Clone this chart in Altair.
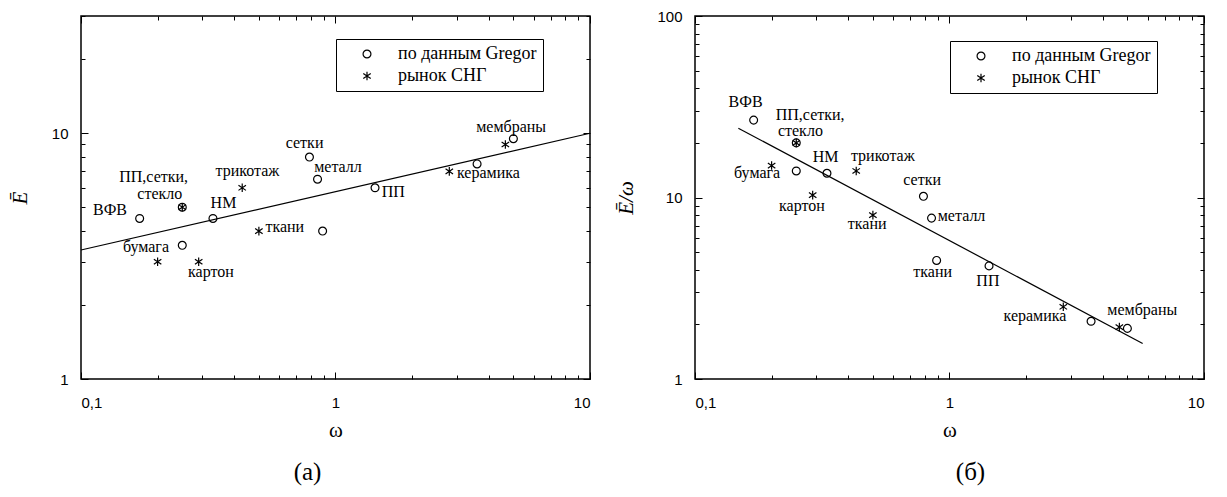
import altair as alt
import pandas as pd

# ---------------- data ----------------
SER_G = "по данным Gregor"
SER_S = "рынок СНГ"

# panel (a): E vs omega
a_gregor_w = [0.17, 0.25, 0.25, 0.33, 0.79, 0.85, 0.89, 1.43, 3.6, 5.0]
a_gregor_E = [4.5, 5.0, 3.5, 4.5, 8.0, 6.5, 4.0, 6.0, 7.5, 9.5]
a_sng_w = [0.2, 0.25, 0.29, 0.43, 0.5, 2.8, 4.65]
a_sng_E = [3.0, 5.0, 3.0, 6.0, 4.0, 7.0, 9.0]
a_fit_w = [0.1, 10.0]
a_fit_E = [3.35, 10.0]
a_lab_text = ["ВФВ", "ПП,сетки,", "стекло", "НМ", "трикотаж", "сетки", "металл",
              "ткани", "бумага", "картон", "ПП", "керамика", "мембраны"]
a_lab_w = [0.13, 0.193, 0.204, 0.363, 0.451, 0.756, 1.023, 0.632, 0.18, 0.324, 1.686, 3.99, 4.9]
a_lab_E = [4.85, 6.65, 5.65, 5.19, 6.99, 9.1, 7.32, 4.15, 3.46, 2.73, 5.74, 6.92, 10.6]

# panel (b): E/omega vs omega
b_gregor_w = [0.17, 0.25, 0.25, 0.33, 0.79, 0.85, 0.89, 1.43, 3.6, 5.0]
b_gregor_v = [26.7, 20.0, 14.0, 13.6, 10.15, 7.7, 4.5, 4.2, 2.08, 1.9]
b_sng_w = [0.2, 0.25, 0.29, 0.43, 0.5, 2.8, 4.65]
b_sng_v = [15.0, 20.0, 10.3, 14.0, 8.0, 2.5, 1.93]
b_fit_w = [0.148, 5.74]
b_fit_v = [24.1, 1.57]
b_lab_text = ["ВФВ", "ПП,сетки,", "стекло", "НМ", "трикотаж", "бумага", "картон",
              "ткани", "сетки", "металл", "ткани", "ПП", "керамика", "мембраны"]
b_lab_w = [0.158, 0.2835, 0.2595, 0.326, 0.547, 0.1754, 0.263, 0.475, 0.781, 1.115, 0.859, 1.415, 2.167, 5.72]
b_lab_v = [33.7, 28.6, 23.3, 16.8, 16.9, 13.6, 9.02, 7.11, 12.5, 7.91, 3.9, 3.47, 2.22, 2.4]

x_ticks = [0.1, 0.2, 0.3, 0.4, 0.5, 0.6, 0.7, 0.8, 0.9, 1, 2, 3, 4, 5, 6, 7, 8, 9, 10]
x_labels = [0.1, 1, 10]
a_y_ticks = [1, 2, 3, 4, 5, 6, 7, 8, 9, 10, 20, 30]
a_y_labels = [1, 10]
b_y_ticks = [1, 2, 3, 4, 5, 6, 7, 8, 9, 10, 20, 30, 40, 50, 60, 70, 80, 90, 100]
b_y_labels = [1, 10, 100]

W, H = 509, 363
ASTER = "M0,-1.1L0,1.1M-0.95,-0.66L0.95,0.66M-0.95,0.66L0.95,-0.66"
SERIF = "Liberation Serif, Times New Roman, serif"
SANS = "Liberation Sans, Arial, sans-serif"

tick_size = {"condition": {"test": "abs(log(datum.value)/LN10 - round(log(datum.value)/LN10)) < 0.001",
                           "value": 7}, "value": 4}


def tick_axis(orient, offset, values):
    return alt.Axis(orient=orient, offset=offset, values=values, labels=False, domain=False,
                    grid=False, title=None, ticks=True, tickColor="black", tickWidth=1,
                    tickSize=tick_size)


def panel(g_w, g_v, s_w, s_v, f_w, f_v, l_t, l_w, l_v, y_dom, y_ticks, y_labels,
          y_title, y_title_pad, caption, cap_dx, leg_y):
    xs = alt.Scale(type="log", domain=[0.1, 10], nice=False)
    ys = alt.Scale(type="log", domain=y_dom, nice=False)

    main_x = alt.Axis(orient="bottom", values=x_labels, format="~g",
                      labelExpr="replace(datum.label, '.', ',')",
                      ticks=False, tickSize=0, domain=False, grid=False,
                      labelFont=SANS, labelFontSize=15, labelColor="black", labelPadding=16,
                      title="ω", titleFont=SERIF, titleFontSize=21, titleFontWeight="normal",
                      titleColor="black", titlePadding=9)
    main_y = alt.Axis(orient="left", values=y_labels, format="~g",
                      ticks=False, tickSize=0, domain=False, grid=False,
                      labelFont=SANS, labelFontSize=15, labelColor="black", labelPadding=13,
                      title=y_title, titleFont=SERIF, titleFontSize=21, titleFontWeight="normal",
                      titleFontStyle="italic", titleColor="black", titlePadding=y_title_pad)

    line_df = pd.DataFrame({"w": f_w, "v": f_v})
    pts_df = pd.concat([
        pd.DataFrame({"w": g_w, "v": g_v, "series": SER_G}),
        pd.DataFrame({"w": s_w, "v": s_v, "series": SER_S}),
    ], ignore_index=True)
    lab_df = pd.DataFrame({"w": l_w, "v": l_v, "t": l_t})

    line = alt.Chart(line_df).mark_line(color="black", strokeWidth=1.2).encode(
        x=alt.X("w:Q", scale=xs, axis=main_x),
        y=alt.Y("v:Q", scale=ys, axis=main_y),
    )
    pts = alt.Chart(pts_df).mark_point(filled=False, color="black", strokeWidth=1.2, size=62,
                                       opacity=1).encode(
        x=alt.X("w:Q", scale=xs, axis=tick_axis("top", -H, x_ticks)),
        y=alt.Y("v:Q", scale=ys, axis=tick_axis("right", -W, y_ticks)),
        shape=alt.Shape("series:N",
                        scale=alt.Scale(domain=[SER_G, SER_S], range=["circle", ASTER]),
                        legend=alt.Legend(orient="none", legendX=255, legendY=leg_y, title=None,
                                          strokeColor="black", fillColor="white", padding=6,
                                          symbolOffset=16, labelOffset=22, rowPadding=4,
                                          labelFont=SERIF, labelFontSize=18, labelColor="black",
                                          symbolStrokeColor="black", symbolStrokeWidth=1.2,
                                          symbolFillColor="white", symbolSize=62,
                                          cornerRadius=0)),
    )
    txt = alt.Chart(lab_df).mark_text(font=SERIF, fontSize=16, color="black", align="center",
                                      baseline="middle").encode(
        x=alt.X("w:Q", scale=xs, axis=tick_axis("bottom", -H, x_ticks)),
        y=alt.Y("v:Q", scale=ys, axis=tick_axis("left", -W, y_ticks)),
        text="t:N",
    )
    return alt.layer(line, pts, txt).resolve_axis(x="independent", y="independent").properties(
        width=W, height=H,
        title=alt.TitleParams(caption, orient="bottom", anchor="middle", dx=cap_dx, offset=20,
                              font=SERIF, fontSize=25, fontWeight="normal", color="black"),
    )


pa = panel(a_gregor_w, a_gregor_E, a_sng_w, a_sng_E, a_fit_w, a_fit_E,
           a_lab_text, a_lab_w, a_lab_E, [1, 30], a_y_ticks, a_y_labels, "Ē", 21,
           "(а)", -28, 23)
pb = panel(b_gregor_w, b_gregor_v, b_sng_w, b_sng_v, b_fit_w, b_fit_v,
           b_lab_text, b_lab_w, b_lab_v, [1, 100], b_y_ticks, b_y_labels, "Ē/ω", 20,
           "(б)", 21, 25)

chart = alt.hconcat(pa, pb, spacing=21).resolve_scale(shape="independent").properties(
    padding=0, background="white"
).configure_view(stroke="black", strokeWidth=1.5)

chart.save("out.html", embed_options={"renderer": "svg", "actions": False})
